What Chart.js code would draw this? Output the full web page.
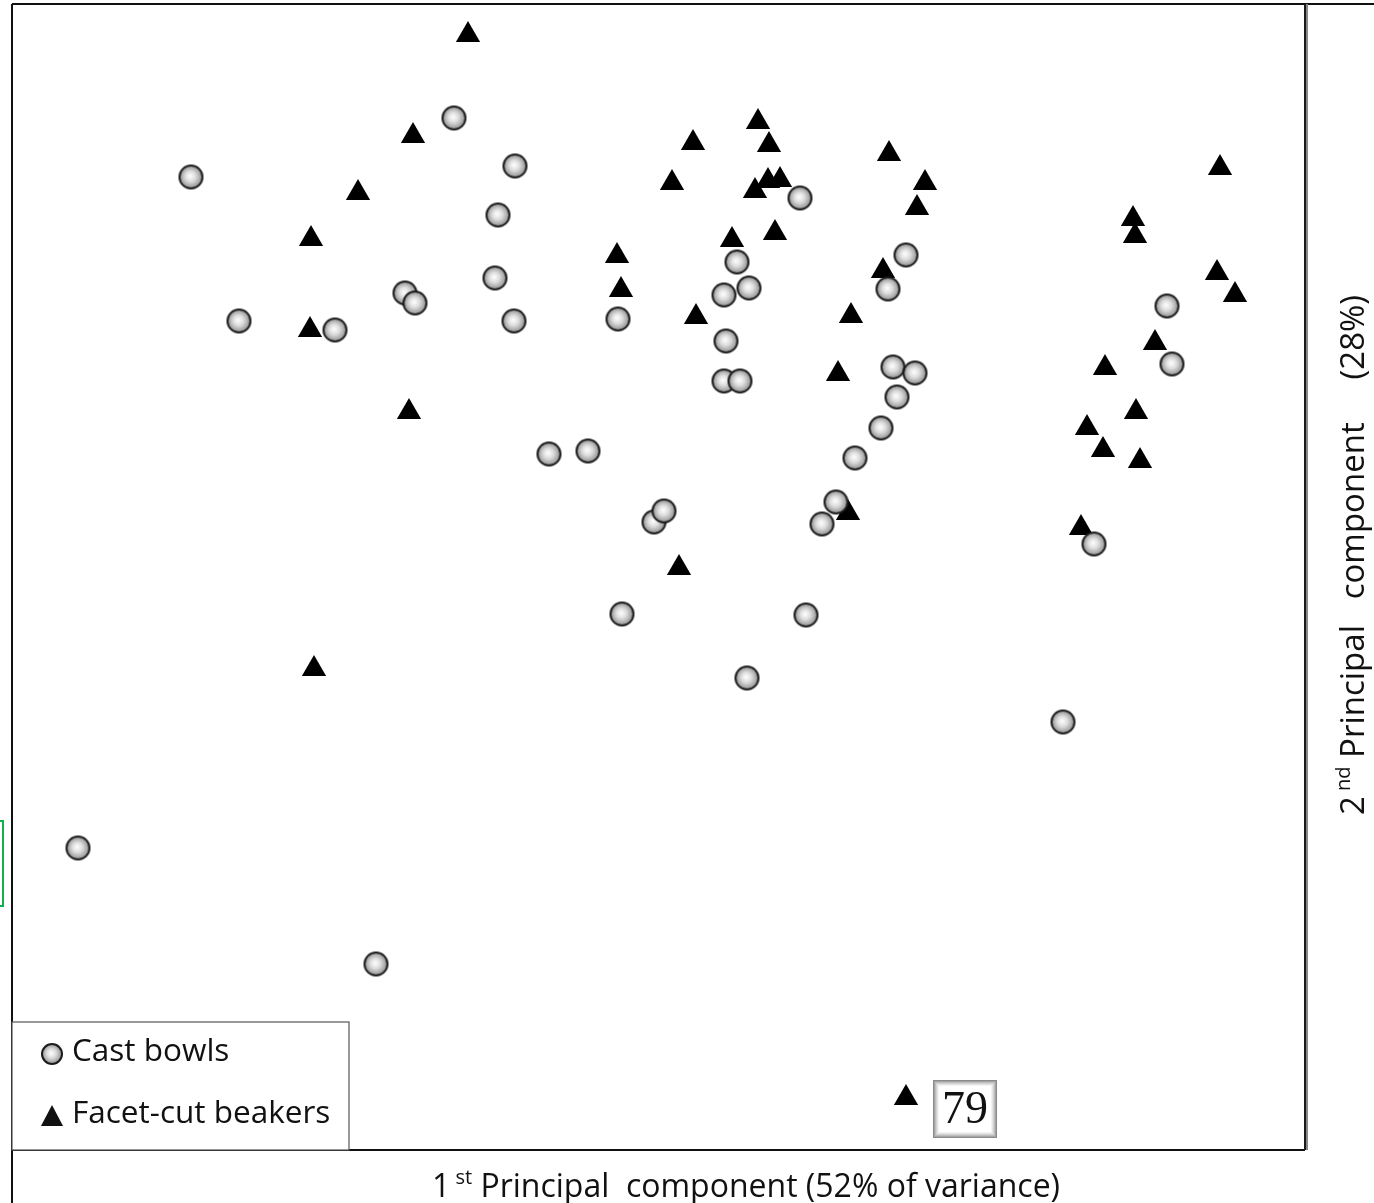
<!DOCTYPE html>
<html>
<head>
<meta charset="utf-8">
<script src="https://cdn.jsdelivr.net/npm/chart.js@4.4.0/dist/chart.umd.min.js"></script>
<style>
  html, body { margin: 0; padding: 0; background: #fff; }
  #wrap { width: 1374px; height: 1203px; position: relative; }
</style>
</head>
<body>
<div id="wrap"><canvas id="pcaChart"></canvas></div>
<script>
// scores (picture units, y grows downward)
var castBowlsX = [191, 454, 515, 498, 495, 405, 415, 239, 335, 514, 618, 800, 737, 724, 749, 726, 724, 740,
                  906, 888, 893, 915, 897, 881, 855, 549, 588, 654, 664, 836, 822, 622, 806, 747, 1094, 1063,
                  1167, 1172, 78, 376];
var castBowlsY = [177, 118, 166, 215, 278, 293, 303, 321, 330, 321, 319, 198, 262, 295, 288, 341, 381, 381,
                  255, 289, 367, 373, 397, 428, 458, 454, 451, 522, 511, 502, 524, 614, 615, 678, 544, 722,
                  306, 364, 848, 964];

var beakersX = [468, 413, 358, 311, 310, 409, 314, 693, 672, 617, 621, 696, 758, 769, 755, 768, 780, 732,
                775, 889, 925, 917, 883, 851, 838, 848, 679, 1220, 1133, 1135, 1217, 1235, 1155, 1105, 1136,
                1087, 1103, 1140, 1081, 906];
var beakersY = [35, 136, 193, 239, 330, 412, 669, 143, 183, 256, 290, 317, 122, 145, 191, 181, 180, 240,
                233, 154, 183, 208, 271, 316, 374, 513, 568, 168, 219, 236, 273, 295, 343, 368, 412,
                428, 450, 461, 528, 1098];

var seriesLabels = ['Cast bowls', 'Facet-cut beakers'];
var xTitle = ['1', 'st', ' Principal  component (52% of variance)'];
var yTitle = ['2', 'nd', ' Principal   component     (28%)'];
var outlierIndex = 39;
var outlierLabel = '79';

var FONT = '"Open Sans", "Noto Sans", sans-serif';

function toPoints(xs, ys) {
  var pts = [];
  for (var i = 0; i < xs.length; i++) pts.push({ x: xs[i], y: ys[i] });
  return pts;
}

// shaded sphere marker
function makeBall(r) {
  var c = document.createElement('canvas');
  var s = Math.ceil(r * 2 + 4);
  c.width = s; c.height = s;
  var g = c.getContext('2d');
  var m = s / 2;
  var grad = g.createRadialGradient(m - 1, m - 1, 0, m, m, r);
  grad.addColorStop(0, '#ffffff');
  grad.addColorStop(0.4, '#dedede');
  grad.addColorStop(1, '#838383');
  g.beginPath();
  g.arc(m, m, r - 1, 0, Math.PI * 2);
  g.fillStyle = grad;
  g.fill();
  g.lineWidth = 2;
  g.strokeStyle = '#1c1c1c';
  g.stroke();
  return c;
}
var ball = makeBall(12.5);
var smallBall = makeBall(11);

function drawSupText(ctx, parts, x, y, size, align) {
  var small = Math.round(size * 0.62);
  ctx.font = size + 'px ' + FONT;
  var w0 = ctx.measureText(parts[0]).width;
  ctx.font = small + 'px ' + FONT;
  var w1 = ctx.measureText(' ' + parts[1]).width;
  ctx.font = size + 'px ' + FONT;
  var w2 = ctx.measureText(parts[2]).width;
  var total = w0 + w1 + w2;
  var sx = align === 'center' ? x - total / 2 : x;
  ctx.textAlign = 'left';
  ctx.textBaseline = 'alphabetic';
  ctx.fillText(parts[0], sx, y);
  ctx.font = small + 'px ' + FONT;
  ctx.fillText(' ' + parts[1], sx + w0, y - size * 0.42);
  ctx.font = size + 'px ' + FONT;
  ctx.fillText(parts[2], sx + w0 + w1, y);
}

var decorPlugin = {
  id: 'decor',
  afterDatasetsDraw: function (chart) {
    var ctx = chart.ctx;
    var a = chart.chartArea;
    ctx.save();

    // frame
    ctx.strokeStyle = '#111';
    ctx.lineWidth = 2;
    ctx.beginPath();
    ctx.moveTo(a.left, a.top); ctx.lineTo(chart.width, a.top);
    ctx.moveTo(a.left, a.top); ctx.lineTo(a.left, chart.height);
    ctx.moveTo(a.left, a.bottom); ctx.lineTo(a.right, a.bottom);
    ctx.stroke();
    ctx.strokeStyle = '#888';
    ctx.lineWidth = 4;
    ctx.beginPath(); ctx.moveTo(a.right + 1, a.top); ctx.lineTo(a.right + 1, a.bottom); ctx.stroke();
    ctx.strokeStyle = '#1a1a1a';
    ctx.lineWidth = 2;
    ctx.beginPath(); ctx.moveTo(a.right, a.top); ctx.lineTo(a.right, a.bottom); ctx.stroke();

    // stray green box at left edge
    ctx.strokeStyle = '#12b04a';
    ctx.lineWidth = 2;
    ctx.strokeRect(-5, 821, 8, 85);

    // legend
    var lx = a.left, ly = 1022, lw = 337, lh = a.bottom - 1022;
    ctx.fillStyle = '#fff';
    ctx.fillRect(lx, ly, lw, lh);
    ctx.strokeStyle = '#555';
    ctx.lineWidth = 1.2;
    ctx.strokeRect(lx, ly, lw, lh);
    ctx.fillStyle = '#111';
    ctx.font = '31.5px ' + FONT;
    ctx.textBaseline = 'middle';
    ctx.textAlign = 'left';
    ctx.drawImage(smallBall, 52 - smallBall.width / 2, 1054 - smallBall.height / 2);
    ctx.fillText(seriesLabels[0], 72, 1052);
    ctx.beginPath();
    ctx.moveTo(52, 1105); ctx.lineTo(63, 1126); ctx.lineTo(41, 1126); ctx.closePath();
    ctx.fill();
    ctx.fillText(seriesLabels[1], 72, 1114);

    // outlier label box
    var p = chart.getDatasetMeta(1).data[outlierIndex];
    var bx = p.x + 27, by = p.y - 18, bw = 64, bh = 58;
    var shades = ['#8a8a8a', '#a5a5a5', '#bdbdbd', '#d2d2d2', '#e4e4e4', '#f2f2f2'];
    for (var i = 0; i < shades.length; i++) {
      ctx.fillStyle = shades[i];
      ctx.fillRect(bx + i, by + i, bw - 2 * i, bh - 2 * i);
    }
    ctx.fillStyle = '#fff';
    ctx.fillRect(bx + 6, by + 6, bw - 12, bh - 12);
    ctx.fillStyle = '#111';
    ctx.font = '46px "Liberation Serif", "DejaVu Serif", serif';
    ctx.textAlign = 'center';
    ctx.textBaseline = 'middle';
    ctx.fillText(outlierLabel, bx + bw / 2, by + bh / 2 + 2);

    // axis titles
    ctx.fillStyle = '#111';
    drawSupText(ctx, xTitle, 746, 1197, 32, 'center');
    ctx.translate(1364, 555);
    ctx.rotate(-Math.PI / 2);
    drawSupText(ctx, yTitle, 0, 0, 33, 'center');
    ctx.restore();
  }
};

var ctxChart = document.getElementById('pcaChart').getContext('2d');
new Chart(ctxChart, {
  type: 'scatter',
  data: {
    datasets: [
      {
        label: seriesLabels[0],
        data: toPoints(castBowlsX, castBowlsY),
        pointStyle: ball,
        pointRadius: 12,
        clip: false
      },
      {
        label: seriesLabels[1],
        data: toPoints(beakersX, beakersY),
        pointStyle: 'triangle',
        pointRadius: 14,
        backgroundColor: '#000',
        borderColor: '#000',
        borderWidth: 0,
        clip: false
      }
    ]
  },
  options: {
    responsive: true,
    maintainAspectRatio: false,
    animation: false,
    events: [],
    layout: { autoPadding: false, padding: { left: 12, top: 4, right: 69, bottom: 53 } },
    plugins: { legend: { display: false }, tooltip: { enabled: false } },
    scales: {
      x: { type: 'linear', min: 12, max: 1305, display: false },
      y: { type: 'linear', min: 4, max: 1150, reverse: true, display: false }
    }
  },
  plugins: [decorPlugin]
});
</script>
</body>
</html>
